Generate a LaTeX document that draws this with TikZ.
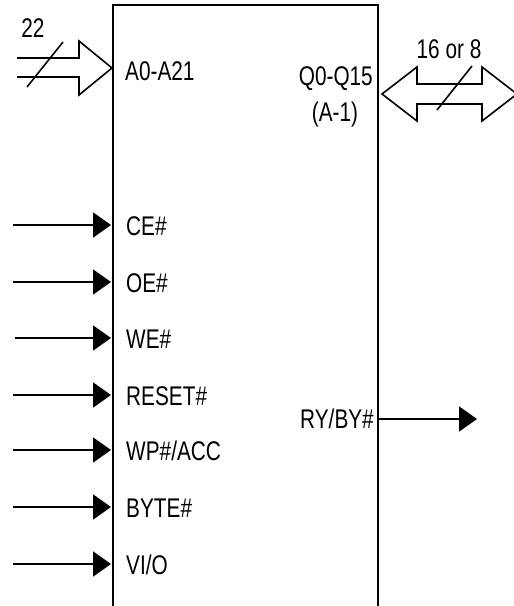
\documentclass[tikz,border=0pt]{standalone}
\usepackage{fontspec}
\setmainfont{Liberation Sans}[FakeStretch=0.77]
\usetikzlibrary{arrows.meta}
\begin{document}
\begin{tikzpicture}[x=1pt,y=-1pt,
  wire/.style={line width=2pt},
  sig/.style={line width=2pt,-{Triangle[length=18pt,width=25pt]}},
  bus/.style={line width=1.6pt,line join=miter},
  lbl/.style={inner sep=0pt,font=\fontsize{27}{29}\selectfont}
]
\useasboundingbox (0,0) rectangle (514,606);
% chip body (open at the bottom)
\coordinate (chipBL) at (113,606);
\coordinate (chipTL) at (113,5);
\coordinate (chipTR) at (378,5);
\coordinate (chipBR) at (378,606);
\draw[wire] (chipBL) -- (chipTL) -- (chipTR) -- (chipBR);

% address bus
\draw[bus] (17,58) -- (79,58) -- (79,41) -- (112,68) -- (79,95) -- (79,77) -- (17,77);
\draw[line width=1.6pt] (27,87) -- (63,42);
\node[lbl,anchor=base] (n22) at (33,37) {22};
\node[lbl,anchor=base west] (la) at (125,80) {A0-A21};

% data bus
\draw[bus] (382,94) -- (417,67) -- (417,84) -- (482,84) -- (482,67) -- (517,94)
  -- (482,121) -- (482,104) -- (417,104) -- (417,121) -- cycle;
\draw[line width=1.6pt] (437,110) -- (472,66);
\node[lbl,anchor=base] (n16) at (449,58) {16 or 8};
\node[lbl,anchor=base east] (lq) at (373,85) {Q0-Q15};
\node[lbl,anchor=base] (lq2) at (335,121) {(A-1)};

% control inputs
\foreach \nm/\yy/\xs/\txt in {ce/225/13/{CE\#}, oe/282/13/{OE\#}, we/338/15/{WE\#},
  reset/395/13/{RESET\#}, wp/450/13/{WP\#/ACC}, byte/507/13/{BYTE\#}, vio/564/13/{VI/O}}{
  \coordinate (\nm S) at (\xs,\yy);
  \coordinate (\nm E) at (111,\yy);
  \draw[sig] (\nm S) -- (\nm E);
  \node[lbl,anchor=base west] (\nm L) at (126,\yy+10) {\txt};
}

% ready/busy output
\coordinate (ryS) at (378,419);
\coordinate (ryE) at (477,419);
\draw[sig] (ryS) -- (ryE);
\node[lbl,anchor=base east] (ryL) at (374,428) {RY/BY\#};
\end{tikzpicture}
\end{document}
